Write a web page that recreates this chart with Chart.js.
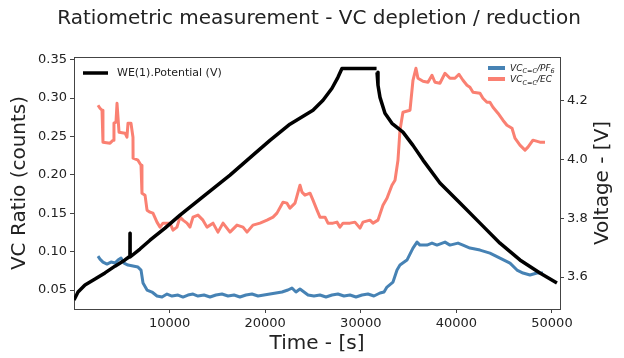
<!DOCTYPE html>
<html>
<head>
<meta charset="utf-8">
<script src="https://cdn.jsdelivr.net/npm/chart.js@4.4.1/dist/chart.umd.min.js"></script>
<style>
html, body { margin: 0; padding: 0; background: #fff; }
canvas { display: block; }
</style>
</head>
<body>
<canvas id="chart" width="624" height="358"></canvas>
<script>
// time in seconds, ratio in counts, potential in volts
const timePF6 = [2510, 2720, 3030, 3450, 3870, 4290, 4600, 4920, 5230, 5650,
  6170, 6690, 7010, 7220, 7640, 8160, 8680, 9210, 9730, 10250,
  10880, 11400, 11920, 12450, 12970, 13600, 14230, 14850, 15480, 16110,
  16740, 17360, 17990, 18620, 19250, 19870, 20500, 21130, 21760, 22380,
  22800, 23220, 23640, 24060, 24480, 25100, 25730, 26360, 26990, 27610,
  28240, 28870, 29500, 30130, 30750, 31380, 32010, 32430, 32740, 33370,
  33790, 34100, 34830, 35460, 35880, 36190, 36920, 37450, 37970, 38810,
  39330, 40170, 40690, 41420, 42470, 43510, 44560, 45610, 46340, 46970,
  47700, 48430, 49060];
const ratioPF6 = [0.0942, 0.0903, 0.0864, 0.0838, 0.0864, 0.0851, 0.0890, 0.0916, 0.0851, 0.0825,
  0.0812, 0.0799, 0.0760, 0.0591, 0.0500, 0.0474, 0.0422, 0.0409, 0.0448, 0.0422,
  0.0435, 0.0409, 0.0435, 0.0448, 0.0422, 0.0435, 0.0409, 0.0435, 0.0448, 0.0422,
  0.0435, 0.0409, 0.0435, 0.0448, 0.0422, 0.0435, 0.0448, 0.0461, 0.0474, 0.0500,
  0.0526, 0.0474, 0.0513, 0.0474, 0.0435, 0.0422, 0.0435, 0.0409, 0.0435, 0.0448,
  0.0422, 0.0435, 0.0409, 0.0435, 0.0448, 0.0422, 0.0461, 0.0474, 0.0539, 0.0604,
  0.0760, 0.0825, 0.0890, 0.1046, 0.1124, 0.1085, 0.1085, 0.1111, 0.1085, 0.1124,
  0.1085, 0.1111, 0.1085, 0.1046, 0.1020, 0.0981, 0.0916, 0.0851, 0.0760, 0.0721,
  0.0695, 0.0721, 0.0721];

const timeEC = [2510, 2720, 2930, 3030, 3770, 4080, 4180, 4390, 4500, 4710,
  5340, 5540, 5650, 5960, 6170, 6180, 6690, 7010, 7110, 7430,
  7640, 7950, 8260, 8680, 9000, 9310, 10040, 10360, 10770, 11090,
  11400, 11820, 12130, 12450, 12970, 13490, 13910, 14540, 15060, 15590,
  16320, 17050, 17680, 18100, 18720, 19460, 20190, 20820, 21230, 21860,
  22280, 22590, 23120, 23640, 23850, 24160, 24690, 25000, 25420, 25730,
  26260, 26570, 27090, 27510, 27820, 28140, 28870, 29390, 29920, 30230,
  30960, 31280, 31800, 32320, 32740, 33260, 33580, 33890, 34100, 34410,
  35150, 35460, 35770, 35980, 36510, 37030, 37450, 37760, 38280, 38810,
  39330, 39850, 40270, 40690, 41110, 41420, 41740, 42470, 42780, 43200,
  43510, 43830, 44350, 44870, 45290, 45820, 46130, 46650, 47180, 47490,
  48010, 48740, 49270];
const ratioEC = [0.2906, 0.2867, 0.2841, 0.2425, 0.2412, 0.2451, 0.2672, 0.2685, 0.2932, 0.2555,
  0.2542, 0.2490, 0.2672, 0.2672, 0.2490, 0.2217, 0.2191, 0.2125, 0.1761, 0.1735,
  0.1540, 0.1514, 0.1501, 0.1384, 0.1319, 0.1371, 0.1371, 0.1280, 0.1319, 0.1449,
  0.1410, 0.1371, 0.1319, 0.1449, 0.1475, 0.1410, 0.1319, 0.1371, 0.1254, 0.1371,
  0.1254, 0.1345, 0.1319, 0.1254, 0.1345, 0.1371, 0.1410, 0.1449, 0.1501, 0.1644,
  0.1631, 0.1566, 0.1631, 0.1865, 0.1774, 0.1735, 0.1761, 0.1670, 0.1540, 0.1449,
  0.1449, 0.1371, 0.1371, 0.1384, 0.1319, 0.1371, 0.1371, 0.1384, 0.1306, 0.1384,
  0.1410, 0.1371, 0.1410, 0.1605, 0.1696, 0.1865, 0.1930, 0.2190, 0.2581, 0.2815,
  0.2841, 0.3231, 0.3387, 0.3257, 0.3218, 0.3205, 0.3296, 0.3205, 0.3192, 0.3322,
  0.3257, 0.3257, 0.3309, 0.3231, 0.3166, 0.3140, 0.3075, 0.3062, 0.2997, 0.2945,
  0.2945, 0.2880, 0.2802, 0.2711, 0.2646, 0.2607, 0.2477, 0.2386, 0.2321, 0.2360,
  0.2451, 0.2425, 0.2425];

// null = the break in the trace at the end of the hold
const timeV = [0, 420, 1150, 2200, 3240, 4290, 5330, 5750, 5850, 5860,
  5870, 6900, 7950, 9520, 11090, 13700, 16320, 18930, 20500, 22590,
  25000, 26050, 26990, 27610, 28030, 31650, 31680, 31700, 31800, 32010,
  32530, 33260, 34410, 35460, 36510, 38280, 40380, 42470, 44560, 46650,
  48740, 50520];
const voltage = [3.522, 3.549, 3.573, 3.593, 3.614, 3.637, 3.658, 3.668, 3.668, 3.749,
  3.668, 3.695, 3.725, 3.766, 3.810, 3.878, 3.946, 4.020, 4.064, 4.119,
  4.166, 4.200, 4.241, 4.278, 4.308, 4.308, null, 4.295, 4.251, 4.210,
  4.156, 4.122, 4.092, 4.047, 3.997, 3.919, 3.851, 3.783, 3.715, 3.658,
  3.614, 3.580];

const xTicks = [10000, 20000, 30000, 40000, 50000];
const ratioTicks = [0.05, 0.10, 0.15, 0.20, 0.25, 0.30, 0.35];
const voltTicks = [3.6, 3.8, 4.0, 4.2];

const titleText = 'Ratiometric measurement - VC depletion / reduction';
const potentialLabel = 'WE(1).Potential (V)';
// legend labels as [text, subscript?] runs
const pf6Label = [['VC', false], ['C=C', true], ['/PF', false], ['6', true]];
const ecLabel = [['VC', false], ['C=C', true], ['/EC', false]];

const BLUE = '#4682b4';
const SALMON = '#fa8072';
const SPINE = '#444';
const TEXT = '#222';

Chart.defaults.font.family = 'DejaVu Sans';
Chart.defaults.color = TEXT;

function toPoints(xs, ys) {
  return xs.map((x, i) => ({x: x, y: ys[i]}));
}

function drawRuns(ctx, x, y, runs) {
  runs.forEach(([text, sub]) => {
    ctx.font = 'italic ' + (sub ? 6.5 : 9) + 'px "DejaVu Sans"';
    ctx.fillText(text, x, sub ? y + 2.5 : y);
    x += ctx.measureText(text).width;
  });
}

const extras = {
  id: 'extras',
  afterDraw(chart) {
    const ctx = chart.ctx;
    const a = chart.chartArea;
    ctx.save();
    // title centred over the axes, allowed to run wider than them
    ctx.fillStyle = TEXT;
    ctx.font = '20px "DejaVu Sans"';
    ctx.textAlign = 'center';
    ctx.textBaseline = 'middle';
    ctx.fillText(titleText, (a.left + a.right) / 2 + 2, 19);

    // top spine
    ctx.strokeStyle = SPINE;
    ctx.lineWidth = 1;
    ctx.beginPath();
    ctx.moveTo(a.left, a.top + 0.5);
    ctx.lineTo(a.right, a.top + 0.5);
    ctx.stroke();

    // legends
    ctx.textAlign = 'left';
    ctx.lineCap = 'butt';
    ctx.lineWidth = 3.5;
    ctx.strokeStyle = '#000';
    ctx.beginPath(); ctx.moveTo(83, 73); ctx.lineTo(108, 73); ctx.stroke();
    ctx.font = '11px "DejaVu Sans"';
    ctx.fillText(potentialLabel, 117, 73);

    ctx.lineWidth = 4;
    ctx.strokeStyle = BLUE;
    ctx.beginPath(); ctx.moveTo(488, 68); ctx.lineTo(505, 68); ctx.stroke();
    ctx.strokeStyle = SALMON;
    ctx.beginPath(); ctx.moveTo(488, 79); ctx.lineTo(505, 79); ctx.stroke();
    ctx.textBaseline = 'alphabetic';
    drawRuns(ctx, 510, 70.5, pf6Label);
    drawRuns(ctx, 510, 82, ecLabel);

    // right axis title reads bottom-up like the left one
    ctx.translate(603, (a.top + a.bottom) / 2);
    ctx.rotate(-Math.PI / 2);
    ctx.font = '20px "DejaVu Sans"';
    ctx.textAlign = 'center';
    ctx.textBaseline = 'middle';
    ctx.fillText('Voltage - [V]', 0, 0);
    ctx.restore();
  }
};

const axisGrid = {drawOnChartArea: false, drawTicks: true, tickLength: 4, color: SPINE};

new Chart(document.getElementById('chart'), {
  type: 'line',
  data: {
    datasets: [
      {
        label: potentialLabel,
        data: toPoints(timeV, voltage),
        yAxisID: 'y1',
        borderColor: '#000',
        borderWidth: 3.5,
        pointRadius: 0,
        tension: 0,
        spanGaps: false,
        borderJoinStyle: 'round'
      },
      {
        label: 'PF6',
        data: toPoints(timePF6, ratioPF6),
        yAxisID: 'y',
        borderColor: BLUE,
        borderWidth: 3,
        pointRadius: 0,
        tension: 0,
        borderJoinStyle: 'round'
      },
      {
        label: 'EC',
        data: toPoints(timeEC, ratioEC),
        yAxisID: 'y',
        borderColor: SALMON,
        borderWidth: 3,
        pointRadius: 0,
        tension: 0,
        borderJoinStyle: 'round'
      }
    ]
  },
  options: {
    responsive: false,
    animation: false,
    layout: {padding: {top: 57, left: 0, right: 0, bottom: 0}},
    plugins: {
      legend: {display: false},
      tooltip: {enabled: false},
      title: {display: false}
    },
    scales: {
      x: {
        type: 'linear',
        min: 0,
        max: 50840,
        grid: axisGrid,
        border: {display: true, color: SPINE},
        ticks: {font: {size: 13}, color: TEXT, maxRotation: 0, autoSkip: false, padding: 3,
          callback: v => String(v)},
        afterBuildTicks: s => { s.ticks = xTicks.map(v => ({value: v})); },
        afterFit: s => { s.height = 49; },
        title: {display: true, text: 'Time - [s]', font: {size: 20}, color: TEXT,
          padding: {top: 0, bottom: 2}}
      },
      y: {
        position: 'left',
        min: 0.0253,
        max: 0.3534,
        grid: axisGrid,
        border: {display: true, color: SPINE},
        ticks: {font: {size: 13}, color: TEXT, padding: 3, callback: v => v.toFixed(2)},
        afterBuildTicks: s => { s.ticks = ratioTicks.map(v => ({value: v})); },
        afterFit: s => { s.width = 74; },
        title: {display: true, text: 'VC Ratio (counts)', font: {size: 20}, color: TEXT,
          padding: {top: 8, bottom: 0}}
      },
      y1: {
        position: 'right',
        min: 3.4915,
        max: 4.347,
        grid: axisGrid,
        border: {display: true, color: SPINE},
        ticks: {font: {size: 13}, color: TEXT, padding: 3, callback: v => v.toFixed(1)},
        afterBuildTicks: s => { s.ticks = voltTicks.map(v => ({value: v})); },
        afterFit: s => { s.width = 64; }
      }
    }
  },
  plugins: [extras]
});
</script>
</body>
</html>
